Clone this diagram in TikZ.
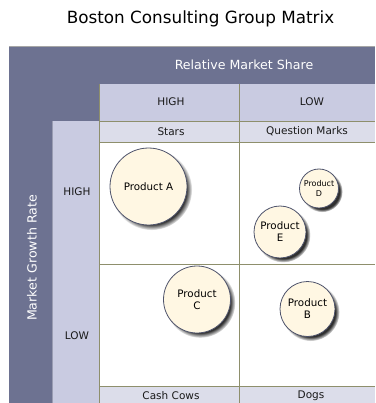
\documentclass[tikz,border=0pt]{standalone}
\usepackage{fontspec}
\setmainfont{DejaVu Sans}
\usetikzlibrary{shadows}
\definecolor{panel}{HTML}{6D7291}
\definecolor{axisband}{HTML}{C9CBE1}
\definecolor{catband}{HTML}{DCDDEA}
\definecolor{rule}{HTML}{8E8F6C}
\definecolor{bubblefill}{HTML}{FFF7E3}
\definecolor{bubbleedge}{HTML}{4E536B}
\begin{document}
\begin{tikzpicture}[x=1pt,y=-1pt,
  title/.style={font=\fontsize{16.8}{19}\selectfont, text=black},
  axistitle/.style={font=\fontsize{12.6}{15}\selectfont, text=white},
  level/.style={font=\fontsize{10.5}{12.5}\selectfont, text=black!90},
  category/.style={font=\fontsize{10.5}{12.5}\selectfont, text=black!90},
  rulel/.style={draw=rule, line width=0.9pt},
  bubble/.style={circle, draw=bubbleedge, line width=0.8pt, fill=bubblefill,
    inner sep=0pt, align=center, text=black,
    font=\fontsize{10.3}{12}\selectfont,
    circular drop shadow={shadow xshift=3pt, shadow yshift=-3pt,
      shadow scale=1.05, opacity=0.9, fill=black!90}},
]
\useasboundingbox (0,0) rectangle (375,403);

% frame panels
\fill[panel] (9,46) rectangle (375,403);
\draw[black!35, line width=0.8pt] (9,46) -- (375,46);
\fill[axisband] (99,84) rectangle (375,121);
\fill[axisband] (52,121) rectangle (99,403);
\draw[panel!70!white, line width=0.6pt] (52,121) -- (52,403);
\fill[catband] (99,121) rectangle (375,142);
\fill[catband] (99,386) rectangle (375,403);
\fill[white] (99,142) rectangle (375,386);

% grid rules
\draw[rulel] (99,84) -- (99,403);
\draw[rulel] (239,84) -- (239,403);
\draw[rulel] (99,121) -- (375,121);
\draw[rulel] (99,142) -- (375,142);
\draw[rulel] (99,264) -- (375,264);
\draw[rulel] (99,386) -- (375,386);

% texts
\node[title] (ttl) at (200.5,19) {Boston Consulting Group Matrix};
\node[axistitle] (rms) at (244,65) {Relative Market Share};
\node[axistitle, rotate=90] (mgr) at (32,258) {Market Growth Rate};
\node[level] (colhigh) at (171,102) {HIGH};
\node[level] (collow) at (312,102) {LOW};
\node[level] (rowhigh) at (77,192) {HIGH};
\node[level] (rowlow) at (77,336) {LOW};
\node[category] (stars) at (171,131.5) {Stars};
\node[category] (qmarks) at (307,131.5) {Question Marks};
\node[category] (cows) at (171,395.5) {Cash Cows};
\node[category] (dogs) at (311,395.5) {Dogs};

% products
\node[bubble, minimum size=77pt] (pa) at (148.5,186.5) {Product A};
\node[bubble, minimum size=39pt, font=\fontsize{8}{9.5}\selectfont] (pd) at (319,188.5) {Product\\D};
\node[bubble, minimum size=52pt] (pe) at (280,232) {Product\\E};
\node[bubble, minimum size=67pt] (pc) at (197,299.5) {Product\\C};
\node[bubble, minimum size=55pt] (pb) at (307.5,309) {Product\\B};
\end{tikzpicture}
\end{document}
